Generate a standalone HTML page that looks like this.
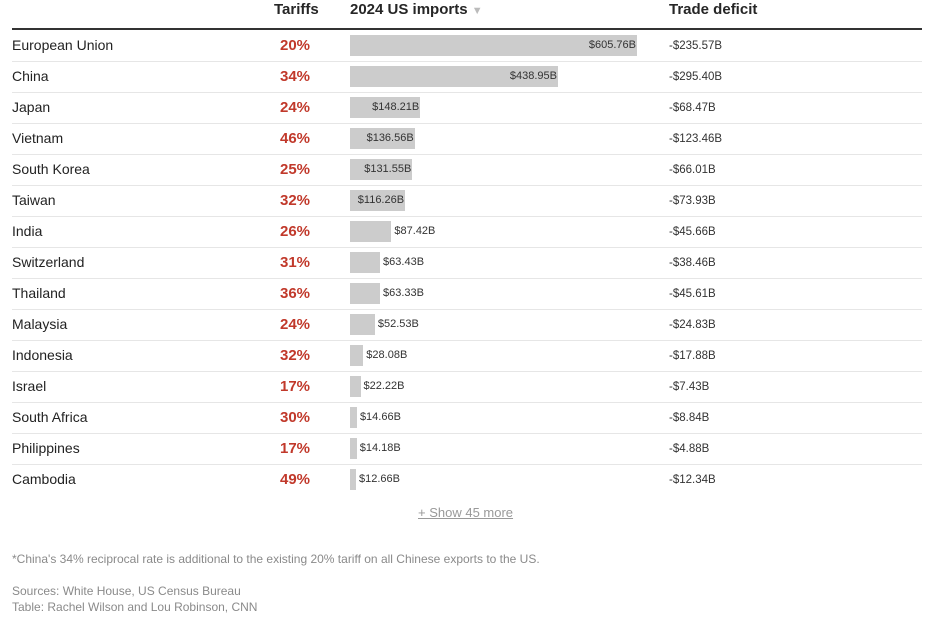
<!DOCTYPE html>
<html><head><meta charset="utf-8"><style>
body{margin:0;width:939px;height:619px;background:#fff;font-family:"Liberation Sans",sans-serif;color:#222;position:relative;overflow:hidden}
.abs{position:absolute;white-space:nowrap}
.hdr{font-size:15px;font-weight:bold;color:#262626;top:1px;line-height:18px}
.row{position:absolute;left:12px;width:910px;height:31px;border-bottom:1px solid #e6e6e6}
.name{position:absolute;left:0;top:0;line-height:31px;font-size:14px;color:#222}
.tar{position:absolute;left:268px;width:30px;text-align:right;top:0;line-height:31px;font-size:15px;font-weight:bold;color:#c1392b}
.bar{position:absolute;left:338px;top:5px;height:21px;background:#cccccc}
.val{position:absolute;top:0;line-height:31px;font-size:11px;color:#333}
.def{position:absolute;left:657px;top:1px;line-height:31px;font-size:11.5px;color:#333}
.foot{font-size:12px;color:#8a8a8a}
</style></head><body>
<div class="abs hdr" style="left:274px">Tariffs</div>
<div class="abs hdr" style="left:350px">2024 US imports <span style="color:#bbb;font-size:11px">▼</span></div>
<div class="abs hdr" style="left:669px">Trade deficit</div>
<div class="abs" style="left:12px;top:28px;width:910px;height:2px;background:#333"></div>
<div id="rows"></div>
<div class="abs" style="left:418px;top:505px;font-size:13px;color:#999;text-decoration:underline">+ Show 45 more</div>
<div class="abs foot" style="left:12px;top:552px">*China's 34% reciprocal rate is additional to the existing 20% tariff on all Chinese exports to the US.</div>
<div class="abs foot" style="left:12px;top:584px">Sources: White House, US Census Bureau</div>
<div class="abs foot" style="left:12px;top:600px">Table: Rachel Wilson and Lou Robinson, CNN</div>
<script>
const countries=["European Union","China","Japan","Vietnam","South Korea","Taiwan","India","Switzerland","Thailand","Malaysia","Indonesia","Israel","South Africa","Philippines","Cambodia"];
const tariffs=[20,34,24,46,25,32,26,31,36,24,32,17,30,17,49];
const imports=[605.76,438.95,148.21,136.56,131.55,116.26,87.42,63.43,63.33,52.53,28.08,22.22,14.66,14.18,12.66];
const deficits=[-235.57,-295.40,-68.47,-123.46,-66.01,-73.93,-45.66,-38.46,-45.61,-24.83,-17.88,-7.43,-8.84,-4.88,-12.34];
const maxW=287,maxV=605.76;
const x=v=>v/maxV*maxW;
const c=document.getElementById('rows');
countries.forEach((n,i)=>{
 const r=document.createElement('div');r.className='row';r.style.top=(30+i*31)+'px';
 
 
 if(i==countries.length-1)r.style.borderBottom='none';
 const w=x(imports[i]);
 const lbl='$'+imports[i].toFixed(2)+'B';
 const inside=w>55;
 r.innerHTML=`<div class="name">${n}</div>`+
 `<div class="tar">${tariffs[i]}%</div>`+
 `<div class="bar" style="width:${w}px"></div>`+
 `<div class="val" style="${inside?'left:'+(338+w-57)+'px;width:56px;text-align:right':'left:'+(338+w+3)+'px'}">${lbl}</div>`+
 `<div class="def">-$${Math.abs(deficits[i]).toFixed(2)}B</div>`;
 c.appendChild(r);
});
</script>
</body></html>
